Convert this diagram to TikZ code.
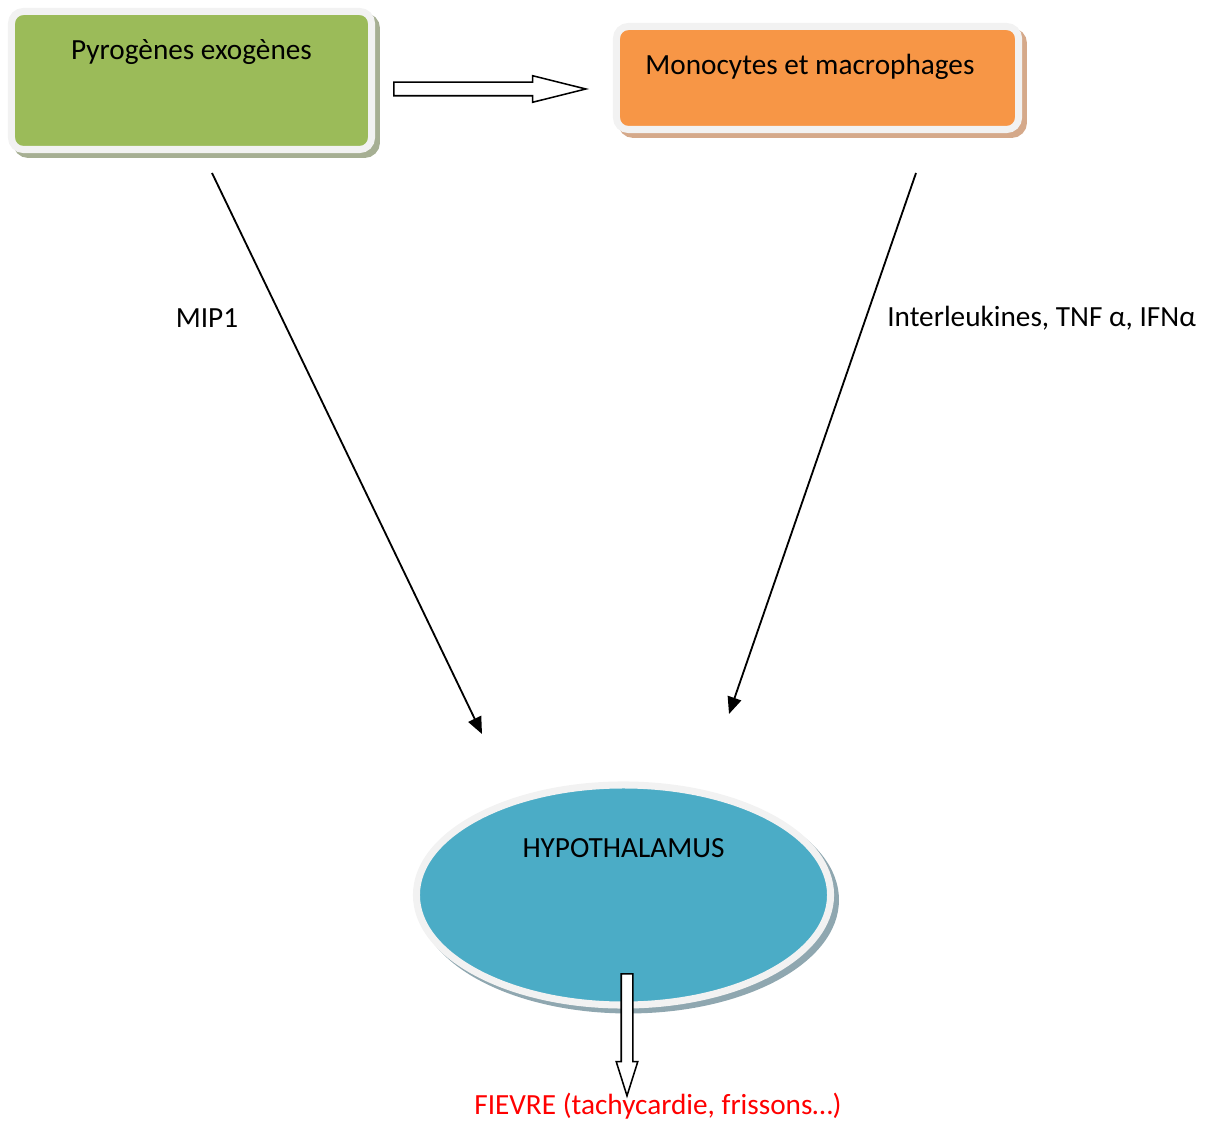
\documentclass[tikz,border=0pt]{standalone}
\usepackage{fontspec}
\setmainfont{Carlito}
\usepackage{tikz}
\usepackage{xcolor}
\usetikzlibrary{shapes.geometric,shapes.arrows,shadows,arrows.meta}
\definecolor{pyrogreen}{HTML}{9BBB59}
\definecolor{monoorange}{HTML}{F79646}
\definecolor{hypoblue}{HTML}{4BACC6}
\definecolor{framegray}{HTML}{F2F2F2}
\definecolor{greenshadow}{HTML}{A6AF93}
\definecolor{orangeshadow}{HTML}{D5A98A}
\definecolor{blueshadow}{HTML}{8FA7B0}
\tikzset{
    frame-shape/.style = {draw=framegray, line width=5pt, inner sep=0pt},
    shadow-of/.style = {drop shadow={shadow xshift=3.5pt, shadow yshift=-3.5pt, draw=#1, fill=#1, opacity=1, line width=5pt}},
    green-box/.style = {frame-shape, rectangle, rounded corners=8.5pt, fill=pyrogreen, shadow-of=greenshadow, minimum width=9cm, minimum height=3.45cm},
    orange-box/.style = {frame-shape, rectangle, rounded corners=8.5pt, fill=monoorange, shadow-of=orangeshadow, minimum width=10.05cm, minimum height=2.575cm},
    blue-ellipse/.style = {frame-shape, ellipse, fill=hypoblue, shadow-of=blueshadow, minimum width=10.35cm, minimum height=5.5cm},
    plain-text/.style = {font=\fontsize{20.8}{25}\selectfont, inner sep=0pt},
    hollow-arrow/.style = {single arrow, draw=black, fill=white, line width=1.1pt, inner sep=0pt, single arrow head indent=0pt},
    thin-arrow/.style = {draw=black, line width=1.3pt, -{Triangle[length=12pt, width=10pt]}},
}

\begin{document}
\begin{tikzpicture}[x=0.025cm, y=-0.025cm]
\useasboundingbox (0,0) rectangle (1205,1122);

% boxes
\node [green-box] (pyro) at (191.5,80.5) {};
\node [plain-text] at ([yshift=-1.11cm]pyro.north) {Pyrogènes exogènes};

\node [orange-box] (mono) at (817.5,78) {};
\node [plain-text] at ([xshift=-0.19cm, yshift=-1.1cm]mono.north) {Monocytes et macrophages};

\node [blue-ellipse] (hypo) at (623.5,895) {};
\node [plain-text] at ([yshift=1.18cm]hypo.center) {HYPOTHALAMUS};

% hollow arrows
\node [hollow-arrow, anchor=tail, text height=0.15cm, text depth=0.15cm, minimum height=4.8cm, single arrow head extend=0.1625cm, single arrow tip angle=28] (pyro-to-mono) at (393,89) {};
\node [hollow-arrow, anchor=tail, rotate=-90, text height=0.125cm, text depth=0.125cm, minimum height=3.05cm, single arrow head extend=0.125cm, single arrow tip angle=35] (hypo-out) at (627,973) {};

% connectors
\coordinate (mip-start) at (212,173);
\coordinate (mip-end) at (482,734);
\coordinate (il-start) at (916,173);
\coordinate (il-end) at (729,714);
\draw [thin-arrow] (mip-start) -- (mip-end);
\draw [thin-arrow] (il-start) -- (il-end);

\node [plain-text] (mip) at (207,318) {MIP1};
\node [plain-text, anchor=west] (cytokines) at (887,318) {Interleukines, TNF α, IFNα};
\node [plain-text, text=red] (fievre) at (658,1106) {FIEVRE (tachycardie, frissons…)};
\end{tikzpicture}
\end{document}
